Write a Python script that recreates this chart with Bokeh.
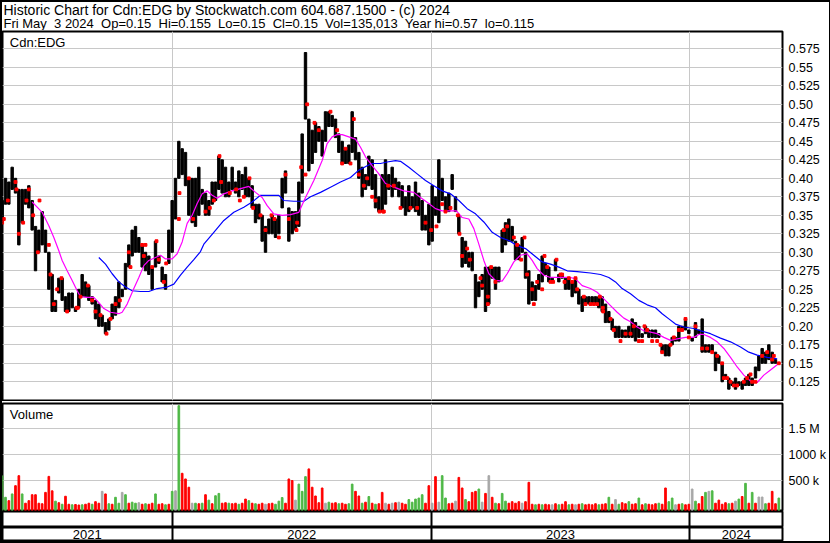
from bokeh.plotting import figure
from bokeh.models import Range1d, FixedTicker, Grid, Label, NumeralTickFormatter
from bokeh.layouts import column
from bokeh.embed import file_html
from bokeh.resources import INLINE
from bokeh.core.properties import value

FONT = "Liberation Sans"

# ---------------- data (bar index = ~3.3 trading days) ----------------
price_hi = [
    .37, .40, .395, .415, .40, .385, .385, .385, .39, .37,
    .335, .33, .355, .33, .30, .27, .235, .265, .265, .24,
    .245, .245, .225, .25, .27, .26, .255, .24, .235, .23,
    .215, .205, .21, .23, .24, .26, .25, .285, .31, .33,
    .335, .32, .31, .30, .295, .28, .315, .295, .28, .27,
    .33, .37, .40, .45, .44, .435, .40, .40, .40, .415,
    .385, .38, .37, .395, .395, .43, .425, .415, .395, .415,
    .395, .41, .405, .415, .40, .39, .365, .365, .35, .335,
    .345, .35, .345, .35, .40, .41, .36, .355, .355, .395,
    .46, .57, .48, .465, .475, .47, .465, .49, .49, .485,
    .48, .46, .45, .44, .445, .49, .455, .435, .415, .405,
    .43, .425, .405, .375, .405, .425, .405, .415, .40, .395,
    .39, .375, .39, .375, .395, .38, .37, .35, .365, .39,
    .375, .425, .40, .375, .38, .405, .375, .35, .32, .315,
    .30, .30, .27, .26, .27, .28, .28, .28, .28, .28,
    .33, .34, .345, .335, .315, .31, .32, .30, .275, .26,
    .255, .27, .295, .285, .28, .265, .29, .27, .27, .265,
    .265, .26, .265, .25, .24, .24, .24, .24, .24, .24,
    .24, .23, .22, .21, .20, .20, .195, .195, .20, .21,
    .205, .20, .19, .20, .195, .195, .195, .19, .175, .175,
    .175, .185, .185, .20, .20, .21, .195, .185, .205, .195,
    .21, .175, .175, .175, .165, .16, .15, .135, .13, .125,
    .13, .125, .125, .13, .135, .13, .145, .16, .17, .165,
    .175, .165, .155, .15]
price_lo = [
    .34, .365, .365, .385, .38, .31, .34, .365, .36, .33,
    .275, .30, .31, .30, .25, .22, .22, .245, .235, .22,
    .22, .225, .22, .225, .24, .24, .235, .23, .21, .20,
    .20, .19, .195, .21, .215, .225, .24, .25, .28, .295,
    .30, .30, .28, .275, .27, .25, .28, .285, .26, .25,
    .285, .30, .345, .40, .405, .39, .35, .34, .335, .35,
    .365, .35, .35, .365, .37, .385, .38, .375, .375, .385,
    .38, .375, .385, .375, .375, .36, .34, .345, .315, .30,
    .325, .325, .32, .325, .36, .38, .315, .325, .33, .335,
    .38, .48, .41, .42, .435, .45, .43, .45, .47, .47,
    .455, .435, .42, .42, .42, .435, .425, .40, .375, .385,
    .39, .385, .36, .355, .355, .365, .385, .375, .385, .375,
    .36, .35, .355, .36, .355, .35, .33, .33, .31, .315,
    .35, .34, .37, .355, .355, .385, .355, .325, .28, .285,
    .28, .275, .225, .24, .25, .22, .23, .265, .25, .26,
    .30, .31, .315, .315, .29, .29, .30, .265, .23, .235,
    .235, .25, .26, .27, .26, .26, .275, .26, .265, .25,
    .25, .24, .245, .23, .22, .23, .23, .23, .23, .225,
    .22, .205, .205, .195, .185, .185, .185, .185, .185, .185,
    .18, .185, .185, .19, .185, .185, .185, .185, .165, .16,
    .16, .175, .18, .18, .195, .195, .19, .18, .185, .19,
    .165, .165, .165, .165, .14, .15, .125, .13, .115, .12,
    .115, .12, .115, .12, .12, .12, .13, .14, .15, .15,
    .155, .15, .15, .15]

# single-price days (drawn as red dots)
flat_u = [0.0, 1.7, 0.5, 4.0, 4.3, 5.0, 6.3, 7.3, 8.0, 9.3, 11.2, 10.7, 14.0, 14.5,
          15.5, 16.5, 17.8, 19.5, 22.3, 22.7, 23.5, 25.7, 27.0, 28.0, 29.5, 31.3,
          32.5, 34.0, 35.3, 38.5, 38.0, 42.0, 43.0, 42.5, 45.0, 46.3, 47.0, 48.5,
          49.2, 53.0, 56.0, 53.2,
          57.3, 61.0, 62.3, 63.5, 65.2, 65.7, 68.3, 70.2, 71.3, 72.5, 74.2, 75.3,
          77.5, 79.0, 80.8, 81.7, 83.0, 85.0, 86.0, 88.3, 88.5, 89.7, 91.0, 91.5,
          93.7, 95.0, 98.5, 100.5, 102.0, 103.0, 104.5, 105.5, 107.0, 108.5, 109.5,
          111.0, 112.0, 113.2, 114.5, 115.8,
          114.3, 117.5, 119.5, 122.5, 124.5, 127.0, 128.7, 130.3, 132.0, 133.0,
          134.5, 136.7, 137.2, 139.5, 138.0, 140.3, 143.5, 144.0, 145.7, 145.7,
          146.7, 148.0, 150.5, 151.5, 153.5, 154.5, 155.7, 156.7, 157.5, 159.0,
          159.5, 160.5, 162.0, 162.7, 163.5, 164.5, 165.3, 166.3, 167.5, 168.0,
          168.7, 170.0, 171.0,
          172.0, 172.5, 174.5, 175.0, 176.5, 177.5, 178.5, 179.3, 180.2, 180.3,
          182.5, 183.5, 185.5, 187.0, 188.5, 189.5, 191.0, 192.0, 192.7, 193.5,
          195.0, 196.5, 197.5, 198.0, 200.5, 201.5, 203.0, 204.0, 205.0, 206.0,
          208.0, 210.0, 211.5, 213.0, 214.5, 216.0, 216.5, 217.5, 218.5, 219.5,
          220.5, 222.5, 223.5, 224.5, 225.0, 226.0, 228.0, 229.5, 231.0, 231.5,
          233.0]
flat_p = [.34, .37, .345, .395, .385, .325, .34, .37, .385, .35, .37, .30, .31, .27,
          .23, .25, .265, .22, .225, .225, .24, .255, .235, .22, .215, .19,
          .21, .23, .235, .28, .30, .31, .31, .295, .28, .315, .29, .26,
          .285, .345, .40, .38,
          .345, .355, .36, .37, .43, .395, .38, .385, .37, .375, .40, .36,
          .35, .33, .35, .345, .32, .405, .345, .33, .34, .415, .405, .50,
          .475, .465, .49, .465, .42, .44, .42, .48, .405, .39, .40,
          .375, .37, .355, .355, .39,
          .355, .39, .36, .36, .36, .34, .33, .335, .365, .355,
          .36, .35, .325, .305, .295, .29, .265, .255, .24, .23,
          .28, .26, .33, .335, .32, .31, .29, .32, .27, .25,
          .23, .26, .25, .295, .28, .26, .26, .29, .27, .27,
          .26, .265, .26,
          .265, .25, .24, .23, .23, .23, .23, .24, .225, .22,
          .21, .195, .18, .19, .19, .20, .18, .18, .20, .195,
          .18, .18, .175, .165, .175, .185, .195, .195, .21, .185,
          .20, .17, .17, .165, .16, .15, .13, .13, .125, .12,
          .12, .125, .13, .135, .125, .125, .16, .165, .155, .16,
          .15]

# moving averages
ma_fast_u = [9.0, 10.5, 12.0, 14.0, 15.5, 17.0, 18.0, 19.5, 21.0, 22.5, 23.5, 25.5,
             27.5, 29.0, 30.5, 32.5, 35.0, 36.0, 37.5, 39.5, 41.0, 42.5, 44.0, 46.0,
             47.5, 49.0, 51.0, 52.5, 54.0, 55.5, 57.0, 58.5, 60.0, 61.5, 63.0, 64.5,
             66.5, 69.0, 71.5, 74.0, 76.0, 78.0, 79.5, 81.5, 84.0, 86.5, 89.0, 91.0,
             93.5, 96.0, 97.5, 99.0, 100.5, 102.0, 104.0, 106.0, 107.5, 109.0, 111.0,
             113.0, 115.0, 117.5, 120.5, 123.5, 125.5, 128.0, 130.0, 132.0, 134.5,
             136.3, 138.0, 140.0, 141.5, 143.0, 144.5, 146.0, 148.0, 150.0, 151.5,
             153.5, 155.5, 157.5, 159.0, 160.5, 162.5, 164.5, 167.5, 170.5, 172.0,
             174.0, 176.5, 178.5, 180.5, 182.5, 184.5, 186.5, 188.5, 190.5, 192.5,
             194.5, 196.5, 198.5, 200.5, 202.5, 205.0, 207.5, 209.0, 210.5, 212.5,
             214.5, 216.5, 218.5, 220.5, 222.5, 224.5, 226.5, 228.5, 230.5, 232.5]
ma_fast_p = [.368, .361, .354, .336, .320, .302, .289, .275, .262, .248, .240, .239,
             .239, .232, .224, .219, .217, .219, .230, .251, .266, .282, .289, .293,
             .296, .291, .291, .298, .314, .339, .350, .366, .379, .383, .377, .373,
             .379, .383, .386, .389, .381, .374, .363, .352, .350, .351, .354, .374,
             .397, .424, .447, .456, .459, .459, .456, .453, .442, .429, .417,
             .406, .393, .388, .383, .381, .374, .366, .359, .356, .356,
             .356, .347, .345, .332, .311, .289, .271, .262, .261, .271,
             .287, .296, .298, .289, .278, .269, .266, .266, .266, .264,
             .255, .251, .246, .237, .228, .219, .211, .206, .199, .194,
             .192, .190, .185, .181, .183, .185, .185, .189, .189, .185,
             .179, .170, .158, .145, .134, .126, .124, .134, .141, .148]
ma_slow_u = [29.0, 31.0, 33.0, 35.0, 37.0, 39.0, 41.5, 44.0, 46.5, 49.5, 51.5, 53.5,
             55.5, 57.5, 59.5, 60.5, 63.5, 66.5, 69.5, 72.5, 75.0, 77.5, 80.5, 83.0,
             84.5, 87.5, 90.5, 92.5, 95.5, 98.5, 101.5, 104.5, 107.0, 109.5, 111.0,
             113.5, 115.5, 118.0, 119.5, 122.0, 124.5, 127.0, 129.5, 132.0, 134.5,
             137.0, 139.5, 142.0, 144.5, 147.0, 149.5, 152.0, 154.5, 157.0, 159.5,
             162.0, 164.5, 167.0, 169.5, 172.5, 176.5, 179.5, 182.0, 184.0, 186.0,
             188.5, 191.0, 193.5, 196.0, 198.0, 200.0, 202.0, 204.5, 207.5, 209.5,
             212.5, 215.5, 218.5, 221.5, 224.0, 226.5, 229.5, 232.5]
ma_slow_p = [.293, .284, .271, .260, .253, .248, .247, .247, .251, .253, .257, .269,
             .280, .290, .301, .311, .327, .343, .354, .361, .368, .377, .377, .377,
             .370, .369, .369, .375, .381, .388, .395, .401, .411, .417, .420,
             .420, .422, .424, .423, .415, .406, .397, .390, .383, .379,
             .370, .359, .352, .341, .327, .320, .316, .309, .305, .296,
             .287, .284, .280, .275, .274, .272, .270, .266, .260, .251,
             .244, .235, .229, .225, .217, .210, .203, .199, .197, .194,
             .190, .184, .179, .172, .165, .161, .158, .156]

# volume in thousands of shares, and day direction (g=up, r=down, n=unchanged)
volume_k = [
    594, 175, 110, 240, 400, 594, 240, 60, 110, 225,
    225, 60, 50, 270, 580, 300, 100, 70, 40, 195,
    40, 30, 35, 25, 30, 40, 60, 40, 90, 60,
    290, 240, 50, 40, 175, 60, 270, 225, 60, 80,
    60, 70, 40, 50, 40, 60, 240, 40, 50, 30,
    40, 290, 300, 1950, 640, 530, 370, 60, 60, 50,
    60, 225, 120, 50, 205, 250, 60, 70, 60, 50,
    60, 40, 60, 140, 110, 60, 50, 40, 60, 40,
    50, 60, 40, 100, 170, 60, 530, 500, 120, 430,
    290, 575, 725, 370, 200, 70, 355, 60, 80, 60,
    70, 50, 60, 40, 50, 430, 290, 200, 60, 80,
    190, 60, 40, 50, 270, 60, 40, 60, 70, 80,
    60, 40, 130, 80, 140, 160, 225, 60, 400, 60,
    575, 80, 594, 160, 50, 60, 100, 560, 355, 130,
    90, 270, 290, 335, 80, 250, 594, 175, 60, 50,
    250, 100, 60, 90, 60, 90, 60, 90, 465, 40,
    30, 40, 30, 40, 30, 30, 50, 30, 40, 90,
    30, 40, 30, 40, 50, 30, 40, 30, 50, 30,
    40, 50, 175, 40, 130, 40, 70, 50, 90, 40,
    50, 160, 30, 50, 40, 30, 50, 60, 40, 355,
    90, 160, 30, 40, 50, 30, 40, 335, 100, 50,
    190, 270, 290, 300, 60, 120, 40, 70, 50, 60,
    100, 140, 190, 445, 60, 270, 60, 180, 180, 50,
    60, 290, 50, 160]
volume_dir = list(
    "ggrgrrgrrr" "rrrrrrgrgr" "rgrrgrrgrr" "nrgrggngrg" "gnrgrrgrrg"
    "rgngrrrngr" "grgrggrrgr" "rgrrgrgrrn" "rrgggrrrng" "ggrrrrrngr"
    "rgrrggrrgr" "grgrrnrnrn" "rrgggggrrn" "rnggrrnrrg" "rrrgnrnrgr"
    "ggrrrrnrrr" "grgrrnrgrr" "grnrgrrrrg" "rrgrngrrgr" "rgrgrrrgrr"
    "ggnrgrrngr" "rgngrrrrgr" "ngrgrgrnng" "rrrg")

year_labels = ["2021", "2022", "2023", "2024"]
year_bounds = [51.0, 128.7, 206.3]          # bar index where each new year starts
price_ticks = [0.125, 0.15, 0.175, 0.2, 0.225, 0.25, 0.275, 0.3, 0.325, 0.35, 0.375,
               0.4, 0.425, 0.45, 0.475, 0.5, 0.525, 0.55, 0.575]
vol_ticks = [500000, 1000000, 1500000]
vol_tick_labels = ["500 k", "1000 k", "1.5 M"]

NB = "\u00a0"
header_1 = "Historic Chart for Cdn:EDG by Stockwatch.com 604.687.1500 - (c) 2024"
header_2 = ("Fri May" + NB + " 3 2024" + NB + " Op=0.15" + NB + " Hi=0.155" + NB +
            " Lo=0.15" + NB + " Cl=0.15" + NB + " Vol=135,013" + NB +
            " Year hi=0.57" + NB + " lo=0.115")

assert len(price_hi) == len(price_lo) == len(volume_k) == len(volume_dir) == 234
assert len(flat_u) == len(flat_p)

# ---------------- layout constants (page has no margin: 830 x 543 incl. 2px border) ----------------
X0, X1 = 0.1, 234.1
P_LO, P_HI = 0.0997, 0.5984
V_LO, V_HI = -81000, 1992000
FW, RB = 780, 46
HDR_H = 28
GRID = "#c8c8c8"
dir_color = {"g": "#4fb846", "r": "#ff0000", "n": "#a8a8a8"}

idx = list(range(len(price_hi)))
xr = Range1d(X0, X1)


def base_fig(frame_height, top, bottom, y_range, yaxis=None):
    p = figure(frame_width=FW, frame_height=frame_height, x_range=xr, y_range=y_range,
               toolbar_location=None, output_backend="svg",
               x_axis_location=None, y_axis_location=yaxis,
               min_border=0, min_border_left=0, min_border_right=RB,
               min_border_top=top, min_border_bottom=bottom,
               background_fill_color="white", border_fill_color="white")
    p.grid.visible = False
    p.outline_line_color = "black"
    p.outline_line_width = 2
    return p


def style_right_axis(a):
    a.axis_line_color = None
    a.major_tick_line_color = None
    a.minor_tick_line_color = None
    a.major_tick_out = 0
    a.major_label_standoff = 6
    a.major_label_text_font = FONT
    a.major_label_text_font_size = "12.5px"
    a.major_label_text_color = "black"


# header
hdr = figure(frame_width=FW + RB, frame_height=HDR_H, x_range=Range1d(0, FW + RB),
             y_range=Range1d(HDR_H, 0), toolbar_location=None, output_backend="svg",
             x_axis_location=None, y_axis_location=None, min_border=0,
             outline_line_color=None, border_fill_color="white")
hdr.grid.visible = False
hdr.add_layout(Label(x=1, y=7.8, text=header_1, text_font=FONT, text_font_size="14px",
                     text_baseline="alphabetic", text_color="black"))
hdr.add_layout(Label(x=1, y=20.6, text=header_2, text_font=FONT, text_font_size="13px",
                     text_baseline="alphabetic", text_color="black"))

# price panel
pf = base_fig(369, 1, 1, Range1d(P_LO, P_HI), yaxis="right")
pf.add_layout(Grid(dimension=1, ticker=FixedTicker(ticks=price_ticks), grid_line_color=GRID))
pf.add_layout(Grid(dimension=0, ticker=FixedTicker(ticks=year_bounds), grid_line_color=GRID))
ax = pf.yaxis[0]
ax.ticker = FixedTicker(ticks=price_ticks)
ax.formatter = NumeralTickFormatter(format="0.00[0]")
style_right_axis(ax)

pf.vbar(x=idx, top=price_hi, bottom=price_lo, width=0.72, color="black")
pf.line(ma_slow_u, ma_slow_p, color="#0000ff", line_width=1.2)
pf.line(ma_fast_u, ma_fast_p, color="#ff00ff", line_width=1.2)
pf.scatter(flat_u, flat_p, marker="square", size=2.8, color="#ff0000")
pf.add_layout(Label(x=2.3, y=0.5839, text="Cdn:EDG", text_font=FONT, text_font_size="13px",
                    text_baseline="alphabetic", text_color="black"))

# volume panel
vf = base_fig(107, 2, 1, Range1d(V_LO, V_HI), yaxis="right")
vf.add_layout(Grid(dimension=1, ticker=FixedTicker(ticks=vol_ticks), grid_line_color=GRID))
vf.add_layout(Grid(dimension=0, ticker=FixedTicker(ticks=year_bounds), grid_line_color=GRID))
vax = vf.yaxis[0]
vax.ticker = FixedTicker(ticks=vol_ticks)
vax.major_label_overrides = dict(zip(vol_ticks, vol_tick_labels))
style_right_axis(vax)

vol_shares = [v * 1000 for v in volume_k]
vf.vbar(x=idx, top=vol_shares, bottom=V_LO, width=0.5,
        color=[dir_color[d] for d in volume_dir])
vf.add_layout(Label(x=2.3, y=1779000, text="Volume", text_font=FONT, text_font_size="13px",
                    text_baseline="alphabetic", text_color="black"))

# empty strip and year-label strip
sf = base_fig(15, 0, 1, Range1d(0, 1))
sf.add_layout(Grid(dimension=0, ticker=FixedTicker(ticks=year_bounds),
                   grid_line_color="black", grid_line_width=2))

lf = base_fig(14, 0, 0, Range1d(0, 1))
lf.add_layout(Grid(dimension=0, ticker=FixedTicker(ticks=year_bounds),
                   grid_line_color="black", grid_line_width=2))
edges = [X0] + year_bounds + [X1]
centers = [(a + b) / 2 for a, b in zip(edges[:-1], edges[1:])]
lf.text(x=centers, y=[0.5] * len(centers), text=year_labels, text_align="center",
        text_baseline="middle", text_font=value(FONT), text_font_size=value("13px"),
        text_color="black")

layout = column(hdr, pf, vf, sf, lf, spacing=0,
                styles={"border": "2px solid black"})

open("out.html", "w").write(file_html(layout, INLINE))
